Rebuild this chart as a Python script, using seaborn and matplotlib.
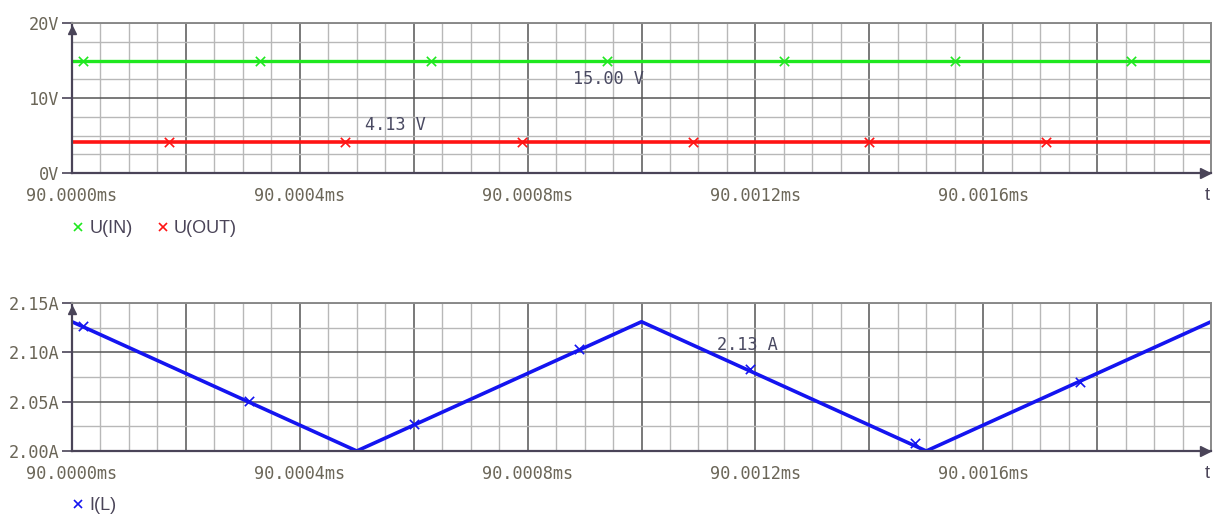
import numpy as np
import pandas as pd
import matplotlib
matplotlib.use("Agg")
import matplotlib.pyplot as plt
from matplotlib.lines import Line2D
import seaborn as sns

# time axis (ms) and traces
t_v = [90.0000, 90.0020]
u_in = [15.00, 15.00]
u_out = [4.13, 4.13]

u_in_mark_t = [90.00002, 90.00033, 90.00063, 90.00094, 90.00125, 90.00155, 90.00186]
u_in_mark = [15.00, 15.00, 15.00, 15.00, 15.00, 15.00, 15.00]
u_out_mark_t = [90.00017, 90.00048, 90.00079, 90.00109, 90.00140, 90.00171]
u_out_mark = [4.13, 4.13, 4.13, 4.13, 4.13, 4.13]

t_il = [90.0000, 90.0005, 90.0010, 90.0015, 90.0020]
i_l = [2.131, 2.000, 2.131, 2.000, 2.131]
i_l_mark_t = [90.00002, 90.00031, 90.00060, 90.00089, 90.00119, 90.00148, 90.00177]
i_l_mark = [2.127, 2.051, 2.027, 2.103, 2.083, 2.008, 2.070]

x_ticks = [90.0000, 90.0002, 90.0004, 90.0006, 90.0008, 90.0010, 90.0012, 90.0014, 90.0016, 90.0018]
x_labels = ["90.0000ms", "", "90.0004ms", "", "90.0008ms", "", "90.0012ms", "", "90.0016ms", ""]
v_ticks = [0, 10, 20]
v_labels = ["0V", "10V", "20V"]
a_ticks = [2.00, 2.05, 2.10, 2.15]
a_labels = ["2.00A", "2.05A", "2.10A", "2.15A"]

GREEN = "#1fe81f"
RED = "#ff1414"
BLUE = "#1414f0"
AXC = "#4a4458"
TICKC = "#6b6658"
MONO = "DejaVu Sans Mono"
FS = 12.2

sns.set_style("white")
plt.rcParams["font.family"] = ["Liberation Sans", "DejaVu Sans"]

fig = plt.figure(figsize=(12.14, 5.16), dpi=100)
W, H = 1214, 516
ax1 = fig.add_axes([72 / W, (H - 173) / H, (1211 - 72) / W, 150 / H])
ax2 = fig.add_axes([72 / W, (H - 451) / H, (1211 - 72) / W, 148 / H])

minor_x = np.round(np.arange(90.0, 90.00201, 0.00005), 6)


def style_axes(ax, yt, yl, ymin, ymax, ystep):
    ax.set_xlim(90.0, 90.002)
    ax.set_ylim(ymin, ymax)
    ax.set_xticks(x_ticks, x_labels)
    ax.set_xticks(minor_x, minor=True)
    ax.set_yticks(yt, yl)
    ax.set_yticks(np.arange(ymin, ymax + ystep / 2, ystep), minor=True)
    ax.grid(which="minor", color="#b8b8b8", lw=1.0)
    ax.grid(which="major", color="#555555", lw=1.1)
    ax.set_axisbelow(True)
    ax.tick_params(axis="x", which="both", length=0, pad=10, labelsize=FS,
                   labelcolor=TICKC)
    ax.tick_params(axis="y", which="major", length=7, width=1.2, color=AXC,
                   pad=2, labelsize=FS, labelcolor=TICKC, left=True)
    ax.tick_params(axis="y", which="minor", length=0)
    for lab in ax.get_xticklabels() + ax.get_yticklabels():
        lab.set_fontfamily(MONO)
    for s in ["left", "bottom"]:
        ax.spines[s].set_color(AXC)
        ax.spines[s].set_linewidth(1.6)
    for s in ["top", "right"]:
        ax.spines[s].set_color("#8a8a8a")
        ax.spines[s].set_linewidth(1.4)
    ax.set_xlabel("")
    ax.set_ylabel("")
    # arrow heads on the axes
    ax.plot([0], [0.955], marker="^", ms=6, color=AXC, transform=ax.transAxes, clip_on=False)
    ax.plot([0.995], [0], marker=">", ms=7, color=AXC, transform=ax.transAxes, clip_on=False)


# top: voltages
sns.lineplot(x=t_v, y=u_in, ax=ax1, color=GREEN, lw=2.4)
sns.lineplot(x=t_v, y=u_out, ax=ax1, color=RED, lw=2.6)
sns.scatterplot(x=u_in_mark_t, y=u_in_mark, ax=ax1, marker="x", color=GREEN, s=45, linewidth=1.2, zorder=5)
sns.scatterplot(x=u_out_mark_t, y=u_out_mark, ax=ax1, marker="x", color=RED, s=45, linewidth=1.2, zorder=5)
style_axes(ax1, v_ticks, v_labels, 0, 20, 2.5)
ax1.text(90.000879, 12.6, "15.00 V", fontfamily=MONO, fontsize=FS, color="#4a4a62", va="center")
ax1.text(90.000514, 6.4, "4.13 V", fontfamily=MONO, fontsize=FS, color="#4a4a62", va="center")

# bottom: inductor current
sns.lineplot(x=t_il, y=i_l, ax=ax2, color=BLUE, lw=2.6)
sns.scatterplot(x=i_l_mark_t, y=i_l_mark, ax=ax2, marker="x", color=BLUE, s=45, linewidth=1.2, zorder=5)
style_axes(ax2, a_ticks, a_labels, 2.0, 2.15, 0.025)
ax2.text(90.001133, 2.107, "2.13 A", fontfamily=MONO, fontsize=FS, color="#4a4a62", va="center")

fig.text(1207 / W, 1 - 195 / H, "t", ha="center", va="center", fontsize=13, color=AXC)
fig.text(1207 / W, 1 - 473 / H, "t", ha="center", va="center", fontsize=13, color=AXC)

# legends
h_in = Line2D([], [], ls="", marker="x", color=GREEN, ms=6, mew=1.2, label="U(IN)")
h_out = Line2D([], [], ls="", marker="x", color=RED, ms=6, mew=1.2, label="U(OUT)")
h_il = Line2D([], [], ls="", marker="x", color=BLUE, ms=6, mew=1.2, label="I(L)")
leg1 = ax1.legend(handles=[h_in, h_out], loc="center left", bbox_to_anchor=(-0.015, -0.37),
                  ncol=2, frameon=False, handlelength=0.8, handletextpad=0.2,
                  columnspacing=1.3, fontsize=13)
leg2 = ax2.legend(handles=[h_il], loc="center left", bbox_to_anchor=(-0.015, -0.37),
                  frameon=False, handlelength=0.8, handletextpad=0.2, fontsize=13)
for leg in (leg1, leg2):
    for txt in leg.get_texts():
        txt.set_color(AXC)

fig.savefig("out.png", dpi=100, facecolor="white")
